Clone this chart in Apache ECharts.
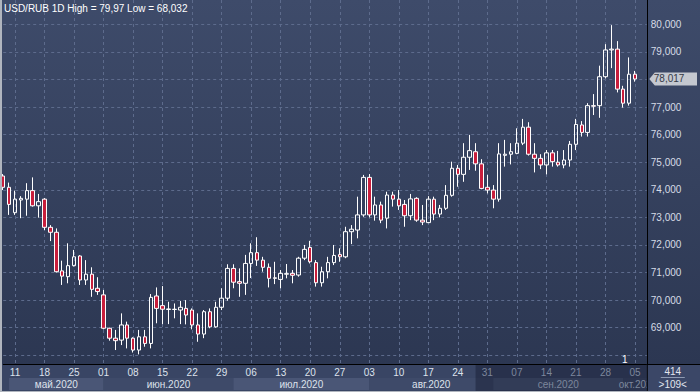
<!DOCTYPE html>
<html><head><meta charset="utf-8">
<script src="https://cdn.jsdelivr.net/npm/echarts@6/dist/echarts.min.js"></script>
<style>
html,body{margin:0;padding:0;background:#2d3853;}
#wrap{position:relative;width:700px;height:392px;overflow:hidden;}
#chart{position:absolute;left:0;top:0;width:700px;height:392px;
 background:linear-gradient(to bottom,#3e4b6a 0px,#2c3752 364px,#394564 364px,#394564 392px);}
#bl{position:absolute;left:0;top:0;width:2px;height:392px;background:#b0b5be;}
#bb{position:absolute;left:0;bottom:0;width:700px;height:1px;background:#b0b5be;}
</style></head><body>
<div id="wrap"><div id="chart"></div><div id="bl"></div><div id="bb"></div></div>
<script>
const dates = [
 '2020-05-07','2020-05-08','2020-05-11','2020-05-12','2020-05-13','2020-05-14','2020-05-15','2020-05-18','2020-05-19','2020-05-20','2020-05-21','2020-05-22','2020-05-25','2020-05-26','2020-05-27','2020-05-28','2020-05-29',
 '2020-06-01','2020-06-02','2020-06-03','2020-06-04','2020-06-05','2020-06-08','2020-06-09','2020-06-10','2020-06-11','2020-06-12','2020-06-15','2020-06-16','2020-06-17','2020-06-18','2020-06-19','2020-06-22','2020-06-23','2020-06-24','2020-06-25','2020-06-26','2020-06-29','2020-06-30',
 '2020-07-01','2020-07-02','2020-07-03','2020-07-06','2020-07-07','2020-07-08','2020-07-09','2020-07-10','2020-07-13','2020-07-14','2020-07-15','2020-07-16','2020-07-17','2020-07-20','2020-07-21','2020-07-22','2020-07-23','2020-07-24','2020-07-27','2020-07-28','2020-07-29','2020-07-30','2020-07-31',
 '2020-08-03','2020-08-04','2020-08-05','2020-08-06','2020-08-07','2020-08-10','2020-08-11','2020-08-12','2020-08-13','2020-08-14','2020-08-17','2020-08-18','2020-08-19','2020-08-20','2020-08-21','2020-08-24','2020-08-25','2020-08-26','2020-08-27','2020-08-28','2020-08-31',
 '2020-09-01','2020-09-02','2020-09-03','2020-09-04','2020-09-07','2020-09-08','2020-09-09','2020-09-10','2020-09-11','2020-09-14','2020-09-15','2020-09-16','2020-09-17','2020-09-18','2020-09-21','2020-09-22','2020-09-23','2020-09-24','2020-09-25','2020-09-28','2020-09-29','2020-09-30',
 '2020-10-01','2020-10-02','2020-10-05','2020-10-06','2020-10-07'
];
const opens = [
 74.50,74.09,73.17,73.63,73.66,73.97,73.42,73.66,72.64,72.46,71.06,70.85,71.25,71.60,70.73,70.94,70.43,
 70.19,68.98,68.62,68.55,69.10,68.62,68.19,68.67,68.43,70.15,69.80,69.68,69.66,69.64,69.70,69.64,69.10,68.77,69.58,69.03,69.74,70.07,
 71.15,70.67,70.61,71.33,71.72,71.45,71.19,70.79,70.75,70.94,70.97,70.91,71.52,71.91,71.36,70.63,71.03,71.36,71.65,71.57,72.48,72.54,73.09,
 74.45,73.09,73.45,72.97,73.81,73.66,73.47,73.06,73.69,72.90,72.81,73.66,73.12,73.33,73.80,74.78,74.56,75.18,75.38,74.94,74.09,
 73.99,73.66,75.25,75.29,75.32,75.69,76.27,75.29,75.14,74.90,75.34,75.00,74.90,75.08,75.65,76.35,76.08,77.05,77.05,78.10,79.07,79.10,
 77.65,77.14,78.19
];
const closes = [
 74.09,73.47,73.66,73.69,73.97,73.42,73.57,72.64,72.46,71.03,70.87,71.25,71.57,70.73,70.94,70.39,70.31,
 68.98,68.62,68.53,69.10,68.62,68.19,68.67,68.43,70.10,69.70,69.67,69.66,69.67,69.74,69.46,69.10,68.77,69.58,69.03,69.74,70.07,71.15,
 70.65,70.61,71.33,71.72,71.45,71.19,70.79,70.81,70.97,70.96,70.90,71.52,71.84,71.39,70.63,71.03,71.36,71.62,71.57,72.48,72.57,73.09,74.45,
 73.09,73.45,72.90,73.81,73.66,73.42,73.06,73.67,72.90,72.83,73.66,73.12,73.33,73.80,74.78,74.56,75.18,75.42,74.94,74.05,73.99,
 73.66,75.30,75.29,75.38,75.69,76.27,75.29,75.14,74.90,75.34,75.02,74.90,75.08,75.65,76.37,76.08,77.05,77.03,78.10,79.07,79.10,77.65,
 77.14,78.19,78.017
];
const lows = [
 73.99,73.09,73.09,72.97,73.06,73.39,72.99,72.54,72.14,71.00,70.55,70.61,71.22,70.55,70.55,70.12,70.19,
 68.94,68.53,68.19,68.37,68.25,68.10,68.032,68.31,68.25,69.16,69.13,69.13,69.34,69.13,69.12,68.94,68.49,68.62,68.98,69.00,69.64,69.98,
 70.43,70.12,70.19,70.80,71.24,71.03,70.46,70.58,70.43,70.79,70.61,70.85,71.45,71.33,70.49,70.49,70.79,71.27,71.39,71.52,72.03,72.24,73.02,
 73.00,72.88,72.79,72.60,73.39,73.27,72.66,72.90,72.84,72.72,72.79,72.90,73.00,73.27,73.75,74.11,74.29,74.72,74.69,74.02,73.87,
 73.33,73.57,74.84,74.92,75.29,75.62,75.24,74.63,74.75,74.56,74.84,74.84,74.78,74.84,75.44,75.93,75.93,76.71,76.61,78.04,78.41,77.53,
 76.98,77.05,77.92
];
const highs = [
 74.57,74.26,73.97,73.77,74.24,74.45,73.85,73.70,72.72,72.60,71.43,72.06,71.82,71.63,71.45,71.19,70.83,
 70.37,69.00,68.92,69.52,69.22,68.65,68.92,68.92,70.22,70.46,70.51,69.94,69.88,69.97,70.00,69.70,69.52,69.64,69.70,69.94,70.43,71.30,
 71.30,71.15,71.64,72.06,72.28,71.57,71.33,71.39,71.09,71.31,71.09,71.57,72.00,72.15,71.45,71.21,71.57,72.00,71.88,72.66,72.72,73.75,74.54,
 74.57,73.75,73.57,73.93,73.93,73.99,73.63,73.85,73.73,73.45,73.77,73.75,73.45,74.17,75.02,74.90,75.69,75.99,75.69,75.11,74.54,
 74.17,75.69,75.81,75.69,76.23,76.57,76.45,75.69,75.29,75.44,75.44,75.41,75.44,75.77,76.57,76.49,77.14,77.47,78.50,79.28,79.97,79.39,
 77.77,78.80,78.31
];
const monthNames = ['май.2020','июн.2020','июл.2020','авг.2020','сен.2020','окт.2020'];
const symbolTitle = 'USD/RUB 1D';
const shadeFrom = '2020-08-27';
const markerDate = '2020-10-01';
const markerText = '1';
const boxTop = '414';
const boxBottom = '>109<';

const FONT = '"Liberation Sans", Arial, sans-serif';
const fmt = v => String(+v.toFixed(3)).replace('.', ',');
const hi = Math.max(...highs), lo = Math.min(...lows);
const last = closes[closes.length - 1];
const candle = opens.map((o, i) => [o, closes[i], lows[i], highs[i]]);
const isMonday = d => new Date(d + 'T00:00:00Z').getUTCDay() === 1;

const chart = echarts.init(document.getElementById('chart'), null, {renderer: 'svg'});
chart.setOption({
  animation: false,
  backgroundColor: 'transparent',
  textStyle: {fontFamily: FONT},
  title: {
    text: symbolTitle + ' High = ' + fmt(hi) + ' Low = ' + fmt(lo),
    left: 4, top: 3, padding: 0,
    textStyle: {color: '#ffffff', fontSize: 10, fontWeight: 'normal', fontFamily: FONT}
  },
  grid: {left: 3.19, top: 0, width: 643.6, height: 364},
  xAxis: {
    type: 'category', data: dates, boundaryGap: false,
    axisLine: {show: true, lineStyle: {color: '#000000', width: 1}},
    axisTick: {show: false},
    axisLabel: {
      interval: (i, v) => isMonday(v),
      formatter: v => v.slice(8),
      fontSize: 10, margin: 3, fontFamily: FONT,
      color: v => (v >= shadeFrom ? '#7d879c' : '#dde2ec')
    },
    splitLine: {show: true, interval: (i, v) => isMonday(v),
      lineStyle: {color: '#5d6b8c', type: [3, 3], width: 1}}
  },
  yAxis: {
    type: 'value', position: 'right', min: 67.684, max: 80.881, splitNumber: 13, scale: true,
    axisLine: {show: true, lineStyle: {color: '#000000', width: 1}},
    axisTick: {show: false},
    splitLine: {show: true, showMinLine: false, showMaxLine: false,
      lineStyle: {color: '#5d6b8c', type: [3, 3], width: 1}},
    axisLabel: {
      showMinLabel: false, showMaxLabel: false, margin: 4, fontSize: 10, fontFamily: FONT,
      color: '#d6dbe6',
      formatter: v => (v < 68.5 || v > 80.5 || Math.abs(v - last) < 0.3) ? '' : v.toFixed(3).replace('.', ',')
    }
  },
  series: [{
    type: 'candlestick', data: candle, barWidth: 4, clip: false,
    itemStyle: {color: 'transparent', color0: '#c81e3c', borderColor: '#ffffff', borderColor0: '#ffffff', borderWidth: 1}
  }]
});

const X = i => chart.convertToPixel({xAxisIndex: 0}, i);
const Y = v => chart.convertToPixel({yAxisIndex: 0}, v);
const step = X(1) - X(0);
const rightX = X(dates.length - 1);
const bottomY = Y(67.684);
const monthStarts = [];
dates.forEach((d, i) => { if (i === 0 || d.slice(5, 7) !== dates[i - 1].slice(5, 7)) monthStarts.push(i); });
const shadeIdx = dates.indexOf(shadeFrom);
const els = [];
monthStarts.forEach((s, k) => {
  const x0 = k === 0 ? X(s + 1) : X(s);
  const x1 = k < monthStarts.length - 1 ? X(monthStarts[k + 1]) : rightX + step;
  els.push({type: 'rect', z: -3, shape: {x: x0, y: bottomY + 14, width: x1 - x0, height: 12},
    style: {fill: k % 2 === 0 ? '#4a5676' : '#3e4a69'}});
  const inShade = s >= shadeIdx;
  els.push({type: 'text', z: -1, style: {text: monthNames[k], x: (x0 + x1) / 2, y: bottomY + 20,
    textAlign: 'center', textVerticalAlign: 'middle', align: 'center', verticalAlign: 'middle',
    fill: inShade ? '#7d879c' : '#dde2ec', font: '10px ' + FONT}});
});
els.push({type: 'rect', z: -2, shape: {x: X(shadeIdx), y: bottomY, width: rightX - X(shadeIdx), height: 27},
  style: {fill: 'rgba(12,18,36,0.38)'}});
els.push({type: 'rect', z: 5, shape: {x: rightX, y: bottomY, width: 700 - rightX, height: 28}, style: {fill: '#3b4767'}});
els.push({type: 'line', z: 6, shape: {x1: rightX + 0.5, y1: bottomY, x2: rightX + 0.5, y2: 392}, style: {stroke: '#000', lineWidth: 1}});
els.push({type: 'line', z: 6, shape: {x1: rightX, y1: bottomY + 0.5, x2: 700, y2: bottomY + 0.5}, style: {stroke: '#000', lineWidth: 1}});
els.push({type: 'text', z: 7, style: {text: boxTop, x: rightX + 26, y: bottomY + 7, textAlign: 'center', textVerticalAlign: 'middle', align: 'center', verticalAlign: 'middle', fill: '#e2e6ee', font: '10px ' + FONT}});
els.push({type: 'line', z: 7, shape: {x1: rightX + 14, y1: bottomY + 13.5, x2: rightX + 38, y2: bottomY + 13.5}, style: {stroke: '#8e9ab2', lineWidth: 1}});
els.push({type: 'text', z: 7, style: {text: boxBottom, x: rightX + 26, y: bottomY + 20, textAlign: 'center', textVerticalAlign: 'middle', align: 'center', verticalAlign: 'middle', fill: '#e2e6ee', font: '10px ' + FONT}});
const ty = Y(last);
els.push({type: 'polygon', z: 10, shape: {points: [[rightX + 2.5, ty], [rightX + 8, ty - 6.5], [697, ty - 6.5], [697, ty + 6.5], [rightX + 8, ty + 6.5]]},
  style: {fill: '#c4c8d0'}});
els.push({type: 'text', z: 11, style: {text: fmt(last).padEnd(6, '0'), x: rightX + 7, y: ty, textAlign: 'left', textVerticalAlign: 'middle', align: 'left', verticalAlign: 'middle', fill: '#343946', font: '10px ' + FONT}});
els.push({type: 'text', z: 4, style: {text: markerText, x: X(dates.indexOf(markerDate)) + 1.5, y: bottomY - 5, textAlign: 'center', textVerticalAlign: 'middle', align: 'center', verticalAlign: 'middle', fill: '#ffffff', font: '10px ' + FONT}});
chart.setOption({graphic: {elements: els}});
</script></body></html>
